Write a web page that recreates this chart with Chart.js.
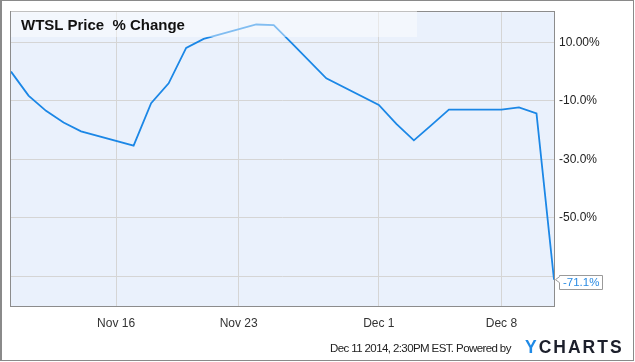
<!DOCTYPE html>
<html>
<head>
<meta charset="utf-8">
<script src="https://cdn.jsdelivr.net/npm/chart.js@4/dist/chart.umd.min.js"></script>
<style>
  html, body { margin: 0; padding: 0; background: #fff; }
  #wrap { position: relative; width: 635px; height: 362px; overflow: hidden; }
  canvas { position: absolute; left: 0; top: 0; }
  #frame { position: absolute; left: 0; top: 0; width: 631px; height: 359px; border: 1.5px solid #8a8a8a; border-left-width: 2px; pointer-events: none; }
  #band { position: absolute; left: 11px; top: 10px; width: 406px; height: 27px; background: rgba(255,255,255,0.45); }
  #title { position: absolute; left: 21px; top: 16.5px; font: bold 15px "Liberation Sans", Arial, sans-serif; line-height: 15px; color: #111; white-space: pre; }
  #footer { position: absolute; left: 330px; top: 341px; font: 11.5px "Liberation Sans", Arial, sans-serif; line-height: 14px; color: #222; white-space: pre; letter-spacing: -0.6px; }
  #logo { position: absolute; left: 525px; top: 336.5px; font: bold 17.5px "Liberation Sans", Arial, sans-serif; line-height: 20px; color: #1c1f2b; letter-spacing: 2px; }
  #logo span { color: #1f8ae6; }
</style>
</head>
<body>
<div id="wrap">
  <canvas id="c" width="635" height="362"></canvas>
  <div id="band"></div>
  <div id="title">WTSL Price  % Change</div>
  <div id="footer">Dec 11 2014, 2:30PM EST. Powered by</div>
  <div id="logo"><span>Y</span>CHARTS</div>
  <div id="frame"></div>
</div>
<script>
// ---- data ----
const startDate = "2014-11-10";
const endDate = "2014-12-11";
const dates = ["2014-11-10","2014-11-11","2014-11-12","2014-11-13","2014-11-14",
  "2014-11-17","2014-11-18","2014-11-19","2014-11-20","2014-11-21",
  "2014-11-24","2014-11-25","2014-11-26","2014-11-28",
  "2014-12-01","2014-12-02","2014-12-03","2014-12-04","2014-12-05",
  "2014-12-08","2014-12-09","2014-12-10","2014-12-11"];
const pctChange = [0, -8.2, -13.4, -17.4, -20.4,
  -25.3, -10.8, -4.0, 8.1, 11.2,
  16.1, 15.9, 9.9, -2.3,
  -11.4, -17.9, -23.5, -18.3, -13.0,
  -13.0, -12.2, -14.3, -71.1];
const xTickDates = ["2014-11-16","2014-11-23","2014-12-01","2014-12-08"];
const xTickLabels = ["Nov 16","Nov 23","Dec 1","Dec 8"];
const yTickValues = [10, -10, -30, -50, -70];
const yTickLabels = ["10.00%", "-10.0%", "-30.0%", "-50.0%", ""];
const lastLabel = "-71.1%";

// ---- helpers ----
const DAY = 86400000;
const dayOf = d => (Date.parse(d) - Date.parse(startDate)) / DAY;
const points = dates.map((d, i) => ({ x: dayOf(d), y: pctChange[i] }));
const xTicks = xTickDates.map(dayOf);

const FONT = '"Liberation Sans", Arial, sans-serif';

const plotDeco = {
  id: 'plotDeco',
  beforeDraw(chart) {
    const { ctx, chartArea: a } = chart;
    ctx.save();
    ctx.fillStyle = '#eaf1fc';
    ctx.fillRect(a.left, a.top, a.right - a.left, a.bottom - a.top);
    ctx.restore();
  },
  afterDraw(chart) {
    const { ctx, chartArea: a } = chart;
    ctx.save();
    ctx.strokeStyle = '#8c8c8c';
    ctx.lineWidth = 1;
    ctx.strokeRect(Math.round(a.left) - 0.5, Math.round(a.top) - 0.5,
      Math.round(a.right - a.left) + 1, Math.round(a.bottom - a.top) + 1);
    // last value label
    const meta = chart.getDatasetMeta(0);
    const p = meta.data[meta.data.length - 1];
    const px = p.x, py = p.y;
    ctx.font = '11.5px ' + FONT;
    const tw = ctx.measureText(lastLabel).width;
    const bx = Math.round(px + 5) + 0.5, by = Math.round(py - 5) + 0.5;
    const bw = Math.round(tw + 7), bh = 14;
    ctx.beginPath();
    ctx.moveTo(bx, by);
    ctx.lineTo(bx + bw, by);
    ctx.lineTo(bx + bw, by + bh);
    ctx.lineTo(bx, by + bh);
    ctx.lineTo(bx, py + 3);
    ctx.lineTo(px + 1.5, py);
    ctx.lineTo(bx, py - 3);
    ctx.closePath();
    ctx.fillStyle = '#ffffff';
    ctx.fill();
    ctx.strokeStyle = '#9a9a9a';
    ctx.lineWidth = 1;
    ctx.stroke();
    ctx.fillStyle = '#2a8be3';
    ctx.textBaseline = 'middle';
    ctx.textAlign = 'left';
    ctx.fillText(lastLabel, bx + 3.5, by + bh / 2 + 0.5);
    ctx.restore();
  }
};

new Chart(document.getElementById('c'), {
  type: 'line',
  data: {
    datasets: [{
      data: points,
      borderColor: '#1b87e6',
      borderWidth: 1.8,
      pointRadius: 0,
      tension: 0,
      fill: false
    }]
  },
  options: {
    responsive: false,
    animation: false,
    events: [],
    layout: { padding: { left: 11, top: 10, right: 0, bottom: 0 } },
    plugins: { legend: { display: false }, tooltip: { enabled: false } },
    scales: {
      x: {
        type: 'linear',
        min: dayOf(startDate),
        max: dayOf(endDate),
        afterBuildTicks(scale) { scale.ticks = xTicks.map(v => ({ value: v })); },
        afterFit(scale) { scale.height = 56; },
        grid: { color: '#d5d5d5', lineWidth: 1, drawTicks: false },
        border: { display: false },
        ticks: {
          padding: 10,
          color: '#333',
          font: { family: FONT, size: 12 },
          maxRotation: 0,
          autoSkip: false,
          callback(v) { const i = xTicks.indexOf(v); return i >= 0 ? xTickLabels[i] : ''; }
        }
      },
      y: {
        position: 'right',
        min: -80.1,
        max: 20.3,
        afterBuildTicks(scale) { scale.ticks = yTickValues.map(v => ({ value: v })); },
        afterFit(scale) { scale.width = 81; },
        grid: { color: '#d5d5d5', lineWidth: 1, drawTicks: false },
        border: { display: false },
        ticks: {
          padding: 5,
          color: '#222',
          font: { family: FONT, size: 12 },
          autoSkip: false,
          callback(v) { const i = yTickValues.indexOf(v); return i >= 0 ? yTickLabels[i] : ''; }
        }
      }
    }
  },
  plugins: [plotDeco]
});
</script>
</body>
</html>
